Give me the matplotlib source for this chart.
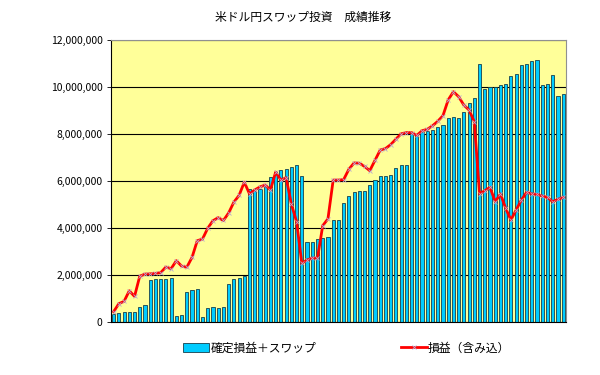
import matplotlib
matplotlib.use("Agg")
import matplotlib.pyplot as plt
from matplotlib.ticker import FuncFormatter

plt.rcParams["font.family"] = ["Noto Sans CJK JP", "DejaVu Sans"]

TITLE = "米ドル円スワップ投資　成績推移"
LABEL_BAR = "確定損益＋スワップ"
LABEL_LINE = "損益（含み込）"

# 確定損益＋スワップ (yen), one value per month
kakutei = [340000, 380000, 420000, 440000, 440000, 630000, 710000,
           1790000, 1810000, 1810000, 1830000, 1870000, 270000, 300000,
           1280000, 1350000, 1390000, 200000, 600000, 650000, 600000, 620000,
           1620000, 1820000, 1860000, 1940000, 5650000, 5560000, 5680000,
           5770000, 6180000, 6400000, 6470000, 6520000, 6600000, 6680000,
           6230000, 3390000, 3390000, 3550000, 3590000, 3620000, 4340000,
           4340000, 5080000, 5360000, 5530000, 5590000, 5590000, 5820000,
           6040000, 6200000, 6200000, 6260000, 6550000, 6670000, 6670000,
           8090000, 7950000, 8090000, 8130000, 8170000, 8310000, 8370000,
           8670000, 8740000, 8700000, 8950000, 9330000, 9530000, 10980000,
           9900000, 9990000, 10010000, 10080000, 10130000, 10470000, 10550000,
           10920000, 11000000, 11090000, 11170000, 10080000, 10130000,
           10510000, 9630000, 9700000]

# 損益（含み込）(yen)
fukumi = [440000, 780000, 880000, 1330000, 1090000, 1950000, 2040000,
          2050000, 2070000, 2100000, 2340000, 2270000, 2610000, 2380000,
          2330000, 2750000, 3460000, 3530000, 3990000, 4310000, 4440000,
          4320000, 4640000, 5100000, 5390000, 5950000, 5450000, 5620000,
          5750000, 5830000, 5620000, 6380000, 6040000, 6140000, 5020000,
          4270000, 2500000, 2640000, 2720000, 2720000, 4100000, 4390000,
          6040000, 6040000, 6060000, 6500000, 6770000, 6760000, 6620000,
          6440000, 6880000, 7320000, 7380000, 7550000, 7780000, 8010000,
          8060000, 8060000, 7940000, 8140000, 8200000, 8350000, 8540000,
          8780000, 9450000, 9800000, 9590000, 9230000, 9020000, 8520000,
          5450000, 5590000, 5730000, 5120000, 5450000, 4840000, 4340000,
          4770000, 5190000, 5520000, 5450000, 5430000, 5360000, 5300000,
          5120000, 5220000, 5300000]

y_ticks = [0, 2000000, 4000000, 6000000, 8000000, 10000000, 12000000]

x = list(range(len(kakutei)))

fig = plt.figure(figsize=(6, 3.75), dpi=100)
ax = fig.add_axes([0.185, 0.1413, 0.758, 0.752])
ax.set_facecolor("#FFFF99")

bars = ax.bar(x, kakutei, width=0.6, color="#00CCFF", edgecolor="#17404c",
              linewidth=0.6, zorder=2, label=LABEL_BAR)
line, = ax.plot(x, fukumi, color="#FF0000", lw=2.0, zorder=3, marker="x",
                ms=2.2, mec="#b8a8d0", mew=0.6, label=LABEL_LINE)

ax.set_xlim(-0.5, len(x) - 0.5)
ax.set_ylim(0, 12000000)
ax.set_yticks(y_ticks)
ax.yaxis.set_major_formatter(FuncFormatter(lambda v, p: f"{v:,.0f}"))
ax.tick_params(axis="y", labelsize=7.5, length=3, width=0.6, pad=3)
ax.set_xticks([])
ax.grid(axis="y", color="black", lw=0.8, zorder=1)
ax.set_axisbelow(True)
for s in ["top", "right"]:
    ax.spines[s].set_color("#909090")
for s in ["left", "bottom"]:
    ax.spines[s].set_color("black")
    ax.spines[s].set_linewidth(0.8)

fig.text(0.505, 0.955, TITLE, ha="center", va="center", fontsize=8.5)

fig.legend([bars, line], [LABEL_BAR, LABEL_LINE], loc="center",
           bbox_to_anchor=(0.578, 0.072), ncol=2, frameon=False,
           fontsize=8.5, columnspacing=7.15, handlelength=2.2,
           handletextpad=0.1)

fig.savefig("out.png", dpi=100)
